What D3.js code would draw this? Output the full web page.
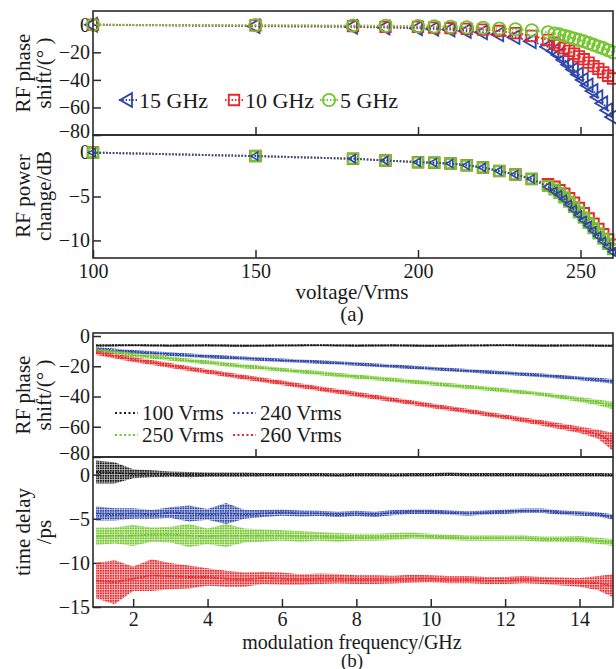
<!DOCTYPE html>
<html>
<head>
<meta charset="utf-8">
<script src="https://cdn.jsdelivr.net/npm/d3@7"></script>
<style>
body { margin: 0; background: #fff; }
text { font-family: "Liberation Serif", "Times New Roman", serif; fill: #1a1a1a; }
</style>
</head>
<body>
<script>
var WIDTH = 616, HEIGHT = 669;

// ---- (a) voltage sweep ----
var voltages = [100, 150, 180, 190, 200, 205, 210, 215, 220, 225, 230, 235, 240,
    242, 243.5, 245, 246.5, 248, 249.5, 251, 252.5, 254, 255.5, 257, 258.5, 260];
var phase15 = [0, -1, -1.5, -2, -2.5, -3, -3.5, -4.5, -5.5, -7, -9, -12, -16,
    -19, -22, -25.5, -29, -32.5, -36, -40, -44, -48, -52.5, -57, -62, -67];
var phase10 = [0, -0.5, -1, -1.5, -1.5, -2, -2.5, -3, -3.5, -4.5, -6, -8, -11,
    -13, -15, -17, -19, -21, -23, -25, -27.5, -30, -32, -34.5, -37, -39];
var phase5 = [0, -0.3, -0.5, -0.7, -1, -1.2, -1.5, -1.8, -2.2, -2.7, -3.3, -4, -5.5,
    -6.3, -7, -8, -9, -10, -11, -12, -13.3, -14.5, -15.8, -17, -18.5, -20];
var power15 = [0, -0.4, -0.7, -0.9, -1.1, -1.15, -1.25, -1.45, -1.7, -2.1, -2.5, -3.0, -3.9,
    -4.4, -4.8, -5.3, -5.9, -6.5, -7.1, -7.7, -8.3, -8.9, -9.5, -10.1, -10.7, -11.3];
var power10 = [0, -0.4, -0.7, -0.9, -1.1, -1.15, -1.25, -1.45, -1.7, -2.1, -2.5, -3.0, -3.6,
    -3.9, -4.3, -4.7, -5.2, -5.7, -6.3, -6.9, -7.5, -8.1, -8.7, -9.3, -9.9, -10.5];
var power5 = [0, -0.4, -0.7, -0.9, -1.1, -1.15, -1.25, -1.45, -1.7, -2.1, -2.5, -3.0, -3.8,
    -4.2, -4.6, -5.1, -5.6, -6.2, -6.8, -7.4, -8.0, -8.6, -9.2, -9.8, -10.4, -11.0];
var voltTicks = [100, 150, 200, 250];
var phaseTicksA = [0, -20, -40, -60, -80];
var powerTicks = [0, -5, -10];
var legendA = ['15 GHz', '10 GHz', '5 GHz'];

// ---- (b) frequency sweep ----
var freqB1 = [1, 2, 3, 4, 5, 6, 7, 8, 9, 10, 11, 12, 13, 14, 14.5, 14.9];
var shift100 = [-6.2, -6.0, -6.3, -6.1, -6.4, -6.2, -6.0, -6.3, -6.1, -6.4, -6.2, -6.0, -6.3, -6.2, -6.3, -6.4];
var shift240 = [-8.5, -10.5, -12, -13.5, -14.8, -16, -17.2, -18.5, -20, -21.5, -23, -24.5, -26, -28, -29, -30];
var shift250 = [-9.5, -12.5, -15, -17.5, -20, -22.3, -24.6, -26.8, -29, -31.3, -33.6, -36, -38.5, -42, -44, -46];
var shift260 = [-11, -15.5, -19.5, -23.5, -27.3, -31, -34.8, -38.5, -42.2, -46, -49.7, -53.5, -57.5, -62, -65, -70];
var shiftSpread100 = [0.9, 0.8, 0.8, 0.8, 0.8, 0.8, 0.8, 0.8, 0.8, 0.8, 0.8, 0.8, 0.8, 0.8, 0.8, 0.8];
var shiftSpread240 = [1.2, 1.2, 1.2, 1.2, 1.2, 1.2, 1.2, 1.2, 1.2, 1.2, 1.2, 1.2, 1.2, 1.3, 1.4, 1.5];
var shiftSpread250 = [1.4, 1.4, 1.4, 1.4, 1.4, 1.4, 1.4, 1.4, 1.4, 1.4, 1.4, 1.4, 1.4, 1.6, 2, 2.5];
var shiftSpread260 = [1.6, 1.6, 1.6, 1.6, 1.6, 1.6, 1.6, 1.6, 1.6, 1.6, 1.6, 1.6, 1.8, 2.2, 3, 6];

var freqB2 = [1, 1.5, 2, 2.5, 3, 3.5, 4, 4.5, 5, 5.5, 6, 6.5, 7, 7.5, 8, 8.5, 9, 9.5,
    10, 10.5, 11, 11.5, 12, 12.5, 13, 13.5, 14, 14.5, 14.9];
var delay100 = [0.3, 0.2, 0.1, 0.1, 0.05, 0, 0, 0, 0, 0, 0, 0, 0, -0.05, 0, 0, -0.05, 0,
    0, 0.05, 0, 0, 0, 0, -0.05, 0, 0, 0, -0.05];
var delay240 = [-4.4, -4.5, -4.4, -4.5, -4.3, -4.4, -4.5, -4.4, -4.5, -4.4, -4.3, -4.4, -4.4, -4.5, -4.4, -4.5, -4.3, -4.2,
    -4.2, -4.3, -4.4, -4.3, -4.2, -4.1, -4.1, -4.3, -4.4, -4.5, -4.8];
var delay250 = [-7.0, -6.9, -6.9, -6.8, -6.8, -6.9, -7.0, -6.9, -6.9, -6.9, -6.9, -7.0, -7.0, -7.1, -7.1, -7.1, -7.0, -6.9,
    -7.0, -7.1, -7.2, -7.2, -7.2, -7.2, -7.3, -7.3, -7.3, -7.5, -7.7];
var delay260 = [-12.0, -12.2, -11.8, -11.4, -11.5, -11.6, -11.6, -11.8, -11.9, -11.7, -11.8, -11.9, -11.8, -11.8, -11.9, -11.9, -11.9, -11.8,
    -11.8, -11.9, -11.9, -12.0, -12.0, -11.9, -12.0, -12.1, -12.2, -12.3, -12.6];
var delaySpread100 = [1.3, 1.2, 0.5, 0.4, 0.3, 0.3, 0.25, 0.25, 0.25, 0.2, 0.2, 0.2, 0.2, 0.2, 0.2, 0.2, 0.2, 0.2,
    0.2, 0.2, 0.2, 0.2, 0.2, 0.2, 0.2, 0.2, 0.2, 0.2, 0.2];
var delaySpread240 = [0.8, 0.7, 0.6, 0.5, 0.6, 0.9, 0.6, 1.2, 0.5, 0.4, 0.35, 0.35, 0.3, 0.3, 0.3, 0.3, 0.3, 0.25,
    0.25, 0.25, 0.25, 0.25, 0.25, 0.25, 0.25, 0.25, 0.25, 0.25, 0.3];
var delaySpread250 = [1.0, 0.9, 1.2, 0.8, 0.9, 1.3, 0.9, 1.3, 0.8, 0.7, 0.6, 0.6, 0.5, 0.5, 0.4, 0.4, 0.4, 0.35,
    0.3, 0.3, 0.3, 0.3, 0.3, 0.3, 0.3, 0.3, 0.35, 0.35, 0.4];
var delaySpread260 = [2.0, 2.5, 1.4, 1.8, 1.5, 1.3, 1.0, 0.9, 0.8, 0.7, 0.7, 0.6, 0.6, 0.55, 0.5, 0.5, 0.45, 0.45,
    0.4, 0.4, 0.4, 0.4, 0.4, 0.4, 0.4, 0.45, 0.5, 0.8, 1.3];
var freqTicks = [2, 4, 6, 8, 10, 12, 14];
var phaseTicksB = [0, -20, -40, -60, -80];
var delayTicks = [0, -5, -10, -15];
var legendB = ['100 Vrms', '240 Vrms', '250 Vrms', '260 Vrms'];

var BLUE = '#2d45a8', RED = '#e8282b', GREEN = '#72c62c', BLACK = '#1a1a1a';
var FRAME = '#2a2a2a';
var LEFT = 93, RIGHT = 613;

var svg = d3.select('body').append('svg').attr('width', WIDTH).attr('height', HEIGHT);
var defs = svg.append('defs');

// dotted fill so the noise bands read as scattered points
function dotPattern(id, color) {
    var p = defs.append('pattern').attr('id', id)
        .attr('width', 2.5).attr('height', 2.5).attr('patternUnits', 'userSpaceOnUse');
    p.append('rect').attr('width', 2).attr('height', 2).attr('fill', color);
    return 'url(#' + id + ')';
}

var xV = d3.scaleLinear().domain([100, 260]).range([LEFT, RIGHT]);
var xF = d3.scaleLinear().domain([0.92, 14.9]).range([LEFT, RIGHT]);

function makePanel(top, bottom, yDomain, yTicks, lastLift) {
    var y = d3.scaleLinear().domain(yDomain).range([bottom, top]);
    var g = svg.append('g');
    var ax = g.append('g')
        .attr('transform', 'translate(' + LEFT + ',0)')
        .call(d3.axisLeft(y).tickValues(yTicks).tickSizeInner(-8).tickSizeOuter(0).tickPadding(3))
        .call(styleAxis);
    // lowest label sits a little above the frame corner
    ax.selectAll('.tick text').filter(function (d) { return d === yTicks[yTicks.length - 1]; })
        .attr('y', -lastLift);
    return { y: y, g: g, top: top, bottom: bottom };
}

function styleAxis(sel) {
    sel.select('.domain').remove();
    sel.selectAll('line').attr('stroke', FRAME).attr('stroke-width', 1.5);
    sel.selectAll('text').attr('font-size', 20).attr('font-family', '"Liberation Serif", serif').attr('fill', '#1a1a1a');
}

function bottomTicks(p, x, ticks, labelled, pad) {
    svg.append('g')
        .attr('transform', 'translate(0,' + p.bottom + ')')
        .call(d3.axisBottom(x).tickValues(ticks).tickSizeInner(-8).tickSizeOuter(0).tickPadding(pad)
            .tickFormat(labelled ? d3.format('d') : ''))
        .call(styleAxis);
}

function frame(p) {
    svg.append('rect')
        .attr('x', LEFT).attr('y', p.top)
        .attr('width', RIGHT - LEFT).attr('height', p.bottom - p.top)
        .attr('fill', 'none').attr('stroke', FRAME).attr('stroke-width', 1.6);
}

function yTitle(lines, yc) {
    lines.forEach(function (t, i) {
        svg.append('text')
            .attr('transform', 'translate(' + (23 + i * 21) + ',' + yc + ') rotate(-90)')
            .attr('text-anchor', 'middle').attr('dominant-baseline', 'central')
            .attr('font-size', 21).text(t);
    });
}

function centerText(t, y, size) {
    svg.append('text').attr('x', 352).attr('y', y)
        .attr('text-anchor', 'middle').attr('dominant-baseline', 'central')
        .attr('font-size', size).text(t);
}

var triangle = d3.symbol().type(d3.symbolTriangle).size(82)();
var square = d3.symbol().type(d3.symbolSquare).size(110)();
var circle = d3.symbol().type(d3.symbolCircle).size(120)();

function markerSeries(p, x, xs, ys, color, path, rot, sw) {
    var pts = xs.map(function (v, i) { return [v, ys[i]]; });
    p.g.append('path')
        .datum(pts)
        .attr('fill', 'none').attr('stroke', color).attr('stroke-width', 2)
        .attr('stroke-dasharray', '1.5,1.8')
        .attr('d', d3.line().x(function (d) { return x(d[0]); }).y(function (d) { return p.y(d[1]); }));
    p.g.append('g').selectAll('path')
        .data(pts)
        .enter().append('path')
        .attr('d', path)
        .attr('transform', function (d) { return 'translate(' + x(d[0]) + ',' + p.y(d[1]) + ') rotate(' + rot + ')'; })
        .attr('fill', 'none').attr('stroke', color).attr('stroke-width', sw);
}

function noisySeries(p, x, xs, ys, spread, color, id) {
    var pts = xs.map(function (v, i) { return [v, ys[i], spread[i]]; });
    p.g.append('path')
        .datum(pts)
        .attr('fill', dotPattern(id, color))
        .attr('d', d3.area()
            .x(function (d) { return x(d[0]); })
            .y0(function (d) { return p.y(d[1] - d[2]); })
            .y1(function (d) { return p.y(d[1] + d[2]); }));
    p.g.append('path')
        .datum(pts)
        .attr('fill', 'none').attr('stroke', color).attr('stroke-width', 1.8)
        .attr('stroke-dasharray', '2,1.2')
        .attr('d', d3.line().x(function (d) { return x(d[0]); }).y(function (d) { return p.y(d[1]); }));
}

// ---------- panel (a) top: RF phase shift ----------
var a1 = makePanel(11, 135, [-80, 10], phaseTicksA, 4);
markerSeries(a1, xV, voltages, phase15, BLUE, triangle, -90, 1.8);
markerSeries(a1, xV, voltages, phase10, RED, square, 0, 1.8);
markerSeries(a1, xV, voltages, phase5, GREEN, circle, 0, 1.8);
bottomTicks(a1, xV, [150, 200, 250], false, 6);
frame(a1);
yTitle(['RF phase', 'shift/(° )'], 73);

// legend (a)
var legA = [
    { label: legendA[0], color: BLUE, path: triangle, rot: -90, x: 128 },
    { label: legendA[1], color: RED, path: square, rot: 0, x: 234 },
    { label: legendA[2], color: GREEN, path: circle, rot: 0, x: 329 }
];
legA.forEach(function (d) {
    svg.append('line').attr('x1', d.x - 9).attr('x2', d.x + 9).attr('y1', 100).attr('y2', 100)
        .attr('stroke', d.color).attr('stroke-width', 2).attr('stroke-dasharray', '1.5,1.8');
    svg.append('path').attr('d', d.path)
        .attr('transform', 'translate(' + d.x + ',100) rotate(' + d.rot + ')')
        .attr('fill', 'none').attr('stroke', d.color).attr('stroke-width', 1.8);
    svg.append('text').attr('x', d.x + 11).attr('y', 100).attr('dominant-baseline', 'central')
        .attr('font-size', 22).text(d.label);
});

// ---------- panel (a) bottom: RF power change ----------
var a2 = makePanel(135, 258, [-12, 2], powerTicks, 0);
markerSeries(a2, xV, voltages, power10, RED, square, 0, 2);
markerSeries(a2, xV, voltages, power5, GREEN, d3.symbol().type(d3.symbolSquare).size(95)(), 0, 2.4);
markerSeries(a2, xV, voltages, power15, BLUE, d3.symbol().type(d3.symbolTriangle).size(28)(), -90, 1.6);
bottomTicks(a2, xV, voltTicks, true, 6);
frame(a2);
yTitle(['RF power', 'change/dB'], 196);
centerText('voltage/Vrms', 292, 21);
centerText('(a)', 314, 21);

// ---------- panel (b) top: RF phase shift vs frequency ----------
var b1 = makePanel(333, 457, [-80, 2], phaseTicksB, 4);
noisySeries(b1, xF, freqB1, shift100, shiftSpread100, BLACK, 'p1k');
noisySeries(b1, xF, freqB1, shift240, shiftSpread240, BLUE, 'p1b');
noisySeries(b1, xF, freqB1, shift250, shiftSpread250, GREEN, 'p1g');
noisySeries(b1, xF, freqB1, shift260, shiftSpread260, RED, 'p1r');
// the upper frequency panel keeps the tick marks of the voltage axis (unlabelled)
bottomTicks(b1, xV, [150, 200, 250], false, 6);
frame(b1);
yTitle(['RF phase', 'shift/(° )'], 395);

var legB = [
    { label: legendB[0], color: BLACK, x: 115, y: 413 },
    { label: legendB[1], color: BLUE, x: 233, y: 413 },
    { label: legendB[2], color: GREEN, x: 115, y: 435 },
    { label: legendB[3], color: RED, x: 233, y: 435 }
];
legB.forEach(function (d) {
    svg.append('line').attr('x1', d.x).attr('x2', d.x + 23).attr('y1', d.y).attr('y2', d.y)
        .attr('stroke', d.color).attr('stroke-width', 2).attr('stroke-dasharray', '2,2.5');
    svg.append('text').attr('x', d.x + 27).attr('y', d.y).attr('dominant-baseline', 'central')
        .attr('font-size', 21).text(d.label);
});

// ---------- panel (b) bottom: time delay ----------
var b2 = makePanel(457, 607, [-15, 2], delayTicks, 0);
noisySeries(b2, xF, freqB2, delay100, delaySpread100, BLACK, 'p2k');
noisySeries(b2, xF, freqB2, delay240, delaySpread240, BLUE, 'p2b');
noisySeries(b2, xF, freqB2, delay250, delaySpread250, GREEN, 'p2g');
noisySeries(b2, xF, freqB2, delay260, delaySpread260, RED, 'p2r');
bottomTicks(b2, xF, freqTicks, true, 5);
frame(b2);
yTitle(['time delay', '/ps'], 532);
centerText('modulation frequency/GHz', 642, 20);
centerText('(b)', 660, 19);
</script>
</body>
</html>
